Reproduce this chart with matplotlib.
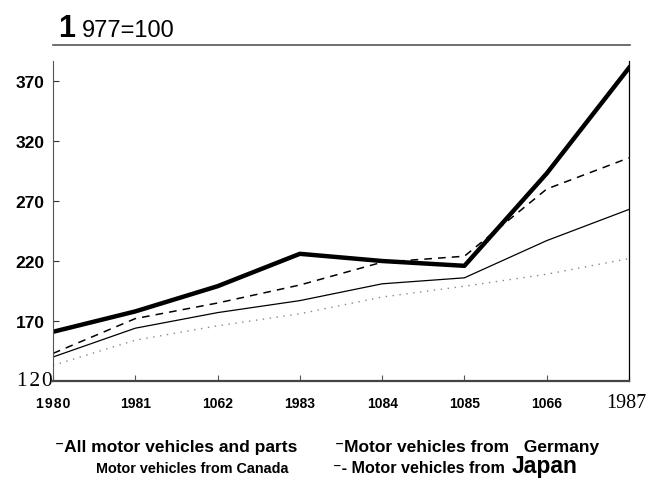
import matplotlib
matplotlib.use("Agg")
import matplotlib.pyplot as plt
from matplotlib.lines import Line2D

# index values, 1977=100
years = [1980, 1981, 1982, 1983, 1984, 1985, 1986, 1987]
year_labels = ['1\u200a9\u200a8\u200a0', '1981', '1062', '1983', '1084', '1085', '1066', '1987']
germany = [161, 178, 199, 226, 220, 216, 293, 381]
japan = [143, 172, 185, 200, 219, 224, 280, 306]
all_parts = [140, 164, 177, 187, 201, 206, 237, 263]
canada = [133, 154, 166, 176, 190, 199, 209, 222]
y_ticks = [170, 220, 270, 320, 370]

bold = ['Liberation Sans', 'DejaVu Sans']
narrow = ['Liberation Sans Narrow', 'Liberation Sans', 'DejaVu Sans']
serif = ['Liberation Serif', 'DejaVu Serif']

fig = plt.figure(figsize=(6.53, 4.85), dpi=100)
ax = fig.add_axes([53 / 653, 1 - 382 / 485, 576 / 653, 320 / 485])

ax.plot(years, canada, color='#888888', lw=1.0, ls=(0, (1, 4)))
ax.plot(years, all_parts, color='black', lw=0.9)
ax.plot(years, japan, color='black', lw=1.1, ls=(0, (5, 4)))
ax.plot(years, germany, color='black', lw=3.2, solid_joinstyle='round')

ax.set_xlim(1980, 1987)
ax.set_ylim(120, 386.7)

ax.spines['top'].set_visible(False)
ax.spines['left'].set_color('#555555')
ax.spines['left'].set_linewidth(0.8)
ax.spines['right'].set_color('black')
ax.spines['right'].set_linewidth(0.9)
ax.spines['bottom'].set_color('#444444')
ax.spines['bottom'].set_linewidth(1.6)

ax.set_yticks(y_ticks)
ax.set_yticklabels([str(v) for v in y_ticks], family=bold, weight='bold', fontsize=12.5)
ax.tick_params(axis='y', direction='in', length=4, width=0.8, pad=6, colors='#333333', labelcolor='black')

ax.set_xticks(years)
ax.set_xticklabels([''] * len(years))
ax.tick_params(axis='x', direction='in', length=4, width=0.8, colors='#555555')

# x labels: the last one in a serif face, larger
for yr, lab in zip(years[:-1], year_labels[:-1]):
    ax.text(yr, -0.081, lab, transform=ax.get_xaxis_transform(), ha='center', va='baseline',
            family=bold, weight='bold', fontsize=10)
ax.text(years[-1] - 0.03, -0.081, year_labels[-1], transform=ax.get_xaxis_transform(), ha='center',
        va='baseline', family=serif, fontsize=14.5)
ax.text(1980, 120, '1\u200a2\u200a0', ha='right', va='center', family=serif, fontsize=15.5)

# header
fig.text(58 / 653, 1 - 37 / 485, '1', family=bold, weight='bold', fontsize=22, va='baseline')
fig.text(82 / 653, 1 - 37 / 485, '977=100', family=bold, fontsize=17, va='baseline')
fig.add_artist(Line2D([53 / 653, 630 / 653], [1 - 46 / 485, 1 - 46 / 485], color='#555555', lw=1.2))

# legend as plain text rows
y1 = 1 - 452 / 485
y2 = 1 - 473 / 485
fig.text(55 / 653, y1, '\u207bAll motor vehicles and parts', family=narrow, weight='bold',
         fontsize=12.5, va='baseline')
fig.text(335 / 653, y1, '\u207bMotor vehicles from   Germany', family=narrow, weight='bold',
         fontsize=12.5, va='baseline')
fig.text(96 / 653, y2, 'Motor vehicles from Canada', family=bold, weight='bold',
         fontsize=10.4, va='baseline')
fig.text(333 / 653, y2, '\u207b- Motor vehicles from', family=bold, weight='bold',
         fontsize=11.6, va='baseline')
fig.text(512 / 653, y2, 'Japan', family=bold, weight='bold', fontsize=16.5, va='baseline')

fig.savefig('out.png', dpi=100)
